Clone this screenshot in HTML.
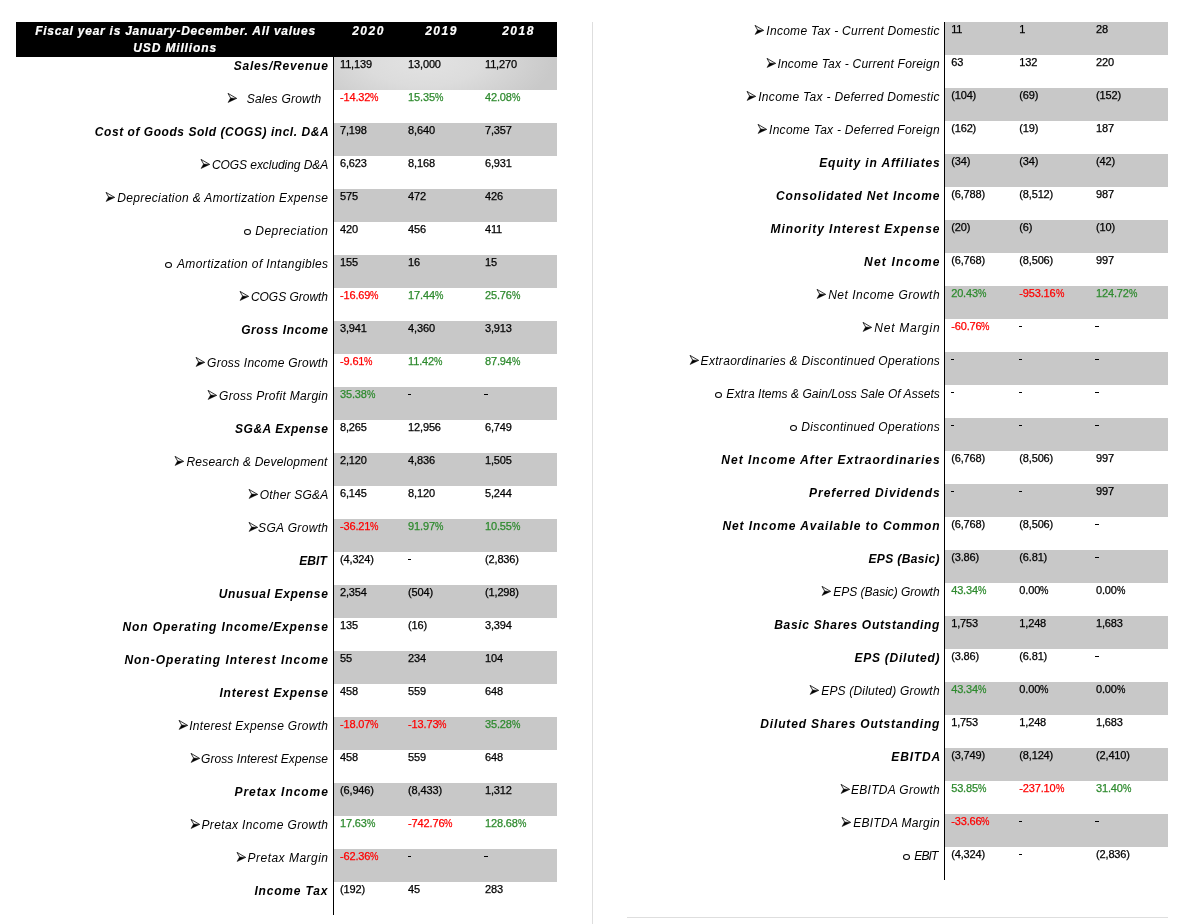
<!DOCTYPE html>
<html><head><meta charset="utf-8"><style>
html,body{margin:0;padding:0;background:#fff;width:1185px;height:924px;overflow:hidden;position:relative;font-family:"Liberation Sans",sans-serif;}
div,svg{position:absolute;}
.grey{height:33px;background:#c8c8c8;}
.grad{height:33px;background:radial-gradient(ellipse 130px 60px at 90px 2px,#e3e3e3 0%,#dcdcdc 45%,#c9c9c9 100%);}
.lab{font-style:italic;font-size:12.0px;line-height:14px;white-space:nowrap;color:#000;}
.val{font-size:11.0px;line-height:12px;white-space:nowrap;-webkit-text-stroke:0.25px currentColor;letter-spacing:-0.15px;}
.pc{display:inline-block;transform:scaleX(0.86);transform-origin:0 0;}
.ci{width:5px;height:4px;border:1px solid #000;border-radius:50%;}
.hdr{left:16px;top:22px;width:541px;height:35px;background:#000;}
.ht{color:#fff;font-weight:bold;font-style:italic;font-size:12px;line-height:14px;white-space:nowrap;text-align:center;-webkit-text-stroke:0.2px #fff;}
</style></head><body><div style="left:0;top:0;width:1185px;height:924px;will-change:transform;background:#fff">
<div class="hdr"></div>
<div class="ht" style="left:17px;width:317px;top:24px;letter-spacing:0.750px">Fiscal year is January-December. All values</div>
<div class="ht" style="left:16.6px;width:317px;top:41px;letter-spacing:0.860px">USD Millions</div>
<div class="ht" style="left:334px;width:69px;top:24px;letter-spacing:1.500px">2020</div>
<div class="ht" style="left:403px;width:77px;top:24px;letter-spacing:1.500px">2019</div>
<div class="ht" style="left:480px;width:77px;top:24px;letter-spacing:1.500px">2018</div>
<div style="left:333px;top:57px;width:1px;height:858px;background:#000"></div>
<div style="left:944px;top:22px;width:1px;height:858px;background:#000"></div>
<div style="left:592px;top:22px;width:1px;height:902px;background:#dedede"></div>
<div style="left:627px;top:917px;width:541px;height:1px;background:#dedede"></div>
<div class="grad" style="left:334px;top:57px;width:223px"></div>
<div class="lab" style="right:857.17px;top:59.00px;font-weight:bold;letter-spacing:0.782px;margin-right:-0.782px">Sales/Revenue</div>
<div class="val" style="left:340.00px;top:58.00px;color:#000">11,139</div>
<div class="val" style="left:408.10px;top:58.00px;color:#000">13,000</div>
<div class="val" style="left:485.00px;top:58.00px;color:#000">11,270</div>
<div class="lab" style="right:863.81px;top:92.00px;font-weight:normal;letter-spacing:0.223px;margin-right:-0.223px">Sales Growth</div>
<svg class="ar" style="left:226.90px;top:90.00px" width="11" height="14" viewBox="0 0 11 14"><path d="M3.6,8 L1,3.4 L9.6,8.4" fill="none" stroke="#000" stroke-width="0.8"/><path d="M3.6,7.9 L9.8,8.4 L1,12.6 Z" fill="#000" stroke="#000" stroke-width="0.4" stroke-linejoin="round"/></svg>
<div class="val" style="left:340.00px;top:91.00px;color:#ff0000">-14.32<span class="pc">%</span></div>
<div class="val" style="left:408.10px;top:91.00px;color:#2e8a2e">15.35<span class="pc">%</span></div>
<div class="val" style="left:485.00px;top:91.00px;color:#2e8a2e">42.08<span class="pc">%</span></div>
<div class="grey" style="left:334px;top:123px;width:223px"></div>
<div class="lab" style="right:856.44px;top:125.00px;font-weight:bold;letter-spacing:0.540px;margin-right:-0.540px">Cost of Goods Sold (COGS) incl. D&amp;A</div>
<div class="val" style="left:340.00px;top:124.00px;color:#000">7,198</div>
<div class="val" style="left:408.10px;top:124.00px;color:#000">8,640</div>
<div class="val" style="left:485.00px;top:124.00px;color:#000">7,357</div>
<div class="lab" style="right:856.77px;top:158.00px;font-weight:normal;letter-spacing:-0.067px;margin-right:0.067px">COGS excluding D&amp;A</div>
<svg class="ar" style="left:200.40px;top:156.00px" width="11" height="14" viewBox="0 0 11 14"><path d="M3.6,8 L1,3.4 L9.6,8.4" fill="none" stroke="#000" stroke-width="0.8"/><path d="M3.6,7.9 L9.8,8.4 L1,12.6 Z" fill="#000" stroke="#000" stroke-width="0.4" stroke-linejoin="round"/></svg>
<div class="val" style="left:340.00px;top:157.00px;color:#000">6,623</div>
<div class="val" style="left:408.10px;top:157.00px;color:#000">8,168</div>
<div class="val" style="left:485.00px;top:157.00px;color:#000">6,931</div>
<div class="grey" style="left:334px;top:189px;width:223px"></div>
<div class="lab" style="right:857.09px;top:191.00px;font-weight:normal;letter-spacing:0.363px;margin-right:-0.363px">Depreciation &amp; Amortization Expense</div>
<svg class="ar" style="left:104.70px;top:189.00px" width="11" height="14" viewBox="0 0 11 14"><path d="M3.6,8 L1,3.4 L9.6,8.4" fill="none" stroke="#000" stroke-width="0.8"/><path d="M3.6,7.9 L9.8,8.4 L1,12.6 Z" fill="#000" stroke="#000" stroke-width="0.4" stroke-linejoin="round"/></svg>
<div class="val" style="left:340.00px;top:190.00px;color:#000">575</div>
<div class="val" style="left:408.10px;top:190.00px;color:#000">472</div>
<div class="val" style="left:485.00px;top:190.00px;color:#000">426</div>
<div class="lab" style="right:856.98px;top:224.00px;font-weight:normal;letter-spacing:0.486px;margin-right:-0.486px">Depreciation</div>
<div class="ci" style="left:244.00px;top:229.00px"></div>
<div class="val" style="left:340.00px;top:223.00px;color:#000">420</div>
<div class="val" style="left:408.10px;top:223.00px;color:#000">456</div>
<div class="val" style="left:485.00px;top:223.00px;color:#000">411</div>
<div class="grey" style="left:334px;top:255px;width:223px"></div>
<div class="lab" style="right:856.87px;top:257.00px;font-weight:normal;letter-spacing:0.374px;margin-right:-0.374px">Amortization of Intangibles</div>
<div class="ci" style="left:165.10px;top:262.00px"></div>
<div class="val" style="left:340.00px;top:256.00px;color:#000">155</div>
<div class="val" style="left:408.10px;top:256.00px;color:#000">16</div>
<div class="val" style="left:485.00px;top:256.00px;color:#000">15</div>
<div class="lab" style="right:856.98px;top:290.00px;font-weight:normal;letter-spacing:-0.024px;margin-right:0.024px">COGS Growth</div>
<svg class="ar" style="left:239.20px;top:288.00px" width="11" height="14" viewBox="0 0 11 14"><path d="M3.6,8 L1,3.4 L9.6,8.4" fill="none" stroke="#000" stroke-width="0.8"/><path d="M3.6,7.9 L9.8,8.4 L1,12.6 Z" fill="#000" stroke="#000" stroke-width="0.4" stroke-linejoin="round"/></svg>
<div class="val" style="left:340.00px;top:289.00px;color:#ff0000">-16.69<span class="pc">%</span></div>
<div class="val" style="left:408.10px;top:289.00px;color:#2e8a2e">17.44<span class="pc">%</span></div>
<div class="val" style="left:485.00px;top:289.00px;color:#2e8a2e">25.76<span class="pc">%</span></div>
<div class="grey" style="left:334px;top:321px;width:223px"></div>
<div class="lab" style="right:857.17px;top:323.00px;font-weight:bold;letter-spacing:0.607px;margin-right:-0.607px">Gross Income</div>
<div class="val" style="left:340.00px;top:322.00px;color:#000">3,941</div>
<div class="val" style="left:408.10px;top:322.00px;color:#000">4,360</div>
<div class="val" style="left:485.00px;top:322.00px;color:#000">3,913</div>
<div class="lab" style="right:856.98px;top:356.00px;font-weight:normal;letter-spacing:0.235px;margin-right:-0.235px">Gross Income Growth</div>
<svg class="ar" style="left:195.30px;top:354.00px" width="11" height="14" viewBox="0 0 11 14"><path d="M3.6,8 L1,3.4 L9.6,8.4" fill="none" stroke="#000" stroke-width="0.8"/><path d="M3.6,7.9 L9.8,8.4 L1,12.6 Z" fill="#000" stroke="#000" stroke-width="0.4" stroke-linejoin="round"/></svg>
<div class="val" style="left:340.00px;top:355.00px;color:#ff0000">-9.61<span class="pc">%</span></div>
<div class="val" style="left:408.10px;top:355.00px;color:#2e8a2e">11.42<span class="pc">%</span></div>
<div class="val" style="left:485.00px;top:355.00px;color:#2e8a2e">87.94<span class="pc">%</span></div>
<div class="grey" style="left:334px;top:387px;width:223px"></div>
<div class="lab" style="right:856.98px;top:389.00px;font-weight:normal;letter-spacing:0.314px;margin-right:-0.314px">Gross Profit Margin</div>
<svg class="ar" style="left:207.20px;top:387.00px" width="11" height="14" viewBox="0 0 11 14"><path d="M3.6,8 L1,3.4 L9.6,8.4" fill="none" stroke="#000" stroke-width="0.8"/><path d="M3.6,7.9 L9.8,8.4 L1,12.6 Z" fill="#000" stroke="#000" stroke-width="0.4" stroke-linejoin="round"/></svg>
<div class="val" style="left:340.00px;top:388.00px;color:#2e8a2e">35.38<span class="pc">%</span></div>
<div style="left:407.50px;top:394.00px;width:3.7px;height:1px;background:#000"></div>
<div style="left:484.40px;top:394.00px;width:3.7px;height:1px;background:#000"></div>
<div class="lab" style="right:857.17px;top:422.00px;font-weight:bold;letter-spacing:0.540px;margin-right:-0.540px">SG&amp;A Expense</div>
<div class="val" style="left:340.00px;top:421.00px;color:#000">8,265</div>
<div class="val" style="left:408.10px;top:421.00px;color:#000">12,956</div>
<div class="val" style="left:485.00px;top:421.00px;color:#000">6,749</div>
<div class="grey" style="left:334px;top:453px;width:223px"></div>
<div class="lab" style="right:857.59px;top:455.00px;font-weight:normal;letter-spacing:0.201px;margin-right:-0.201px">Research &amp; Development</div>
<svg class="ar" style="left:174.30px;top:453.00px" width="11" height="14" viewBox="0 0 11 14"><path d="M3.6,8 L1,3.4 L9.6,8.4" fill="none" stroke="#000" stroke-width="0.8"/><path d="M3.6,7.9 L9.8,8.4 L1,12.6 Z" fill="#000" stroke="#000" stroke-width="0.4" stroke-linejoin="round"/></svg>
<div class="val" style="left:340.00px;top:454.00px;color:#000">2,120</div>
<div class="val" style="left:408.10px;top:454.00px;color:#000">4,836</div>
<div class="val" style="left:485.00px;top:454.00px;color:#000">1,505</div>
<div class="lab" style="right:856.77px;top:488.00px;font-weight:normal;letter-spacing:0.195px;margin-right:-0.195px">Other SG&amp;A</div>
<svg class="ar" style="left:248.40px;top:486.00px" width="11" height="14" viewBox="0 0 11 14"><path d="M3.6,8 L1,3.4 L9.6,8.4" fill="none" stroke="#000" stroke-width="0.8"/><path d="M3.6,7.9 L9.8,8.4 L1,12.6 Z" fill="#000" stroke="#000" stroke-width="0.4" stroke-linejoin="round"/></svg>
<div class="val" style="left:340.00px;top:487.00px;color:#000">6,145</div>
<div class="val" style="left:408.10px;top:487.00px;color:#000">8,120</div>
<div class="val" style="left:485.00px;top:487.00px;color:#000">5,244</div>
<div class="grey" style="left:334px;top:519px;width:223px"></div>
<div class="lab" style="right:856.98px;top:521.00px;font-weight:normal;letter-spacing:0.340px;margin-right:-0.340px">SGA Growth</div>
<svg class="ar" style="left:247.60px;top:519.00px" width="11" height="14" viewBox="0 0 11 14"><path d="M3.6,8 L1,3.4 L9.6,8.4" fill="none" stroke="#000" stroke-width="0.8"/><path d="M3.6,7.9 L9.8,8.4 L1,12.6 Z" fill="#000" stroke="#000" stroke-width="0.4" stroke-linejoin="round"/></svg>
<div class="val" style="left:340.00px;top:520.00px;color:#ff0000">-36.21<span class="pc">%</span></div>
<div class="val" style="left:408.10px;top:520.00px;color:#2e8a2e">91.97<span class="pc">%</span></div>
<div class="val" style="left:485.00px;top:520.00px;color:#2e8a2e">10.55<span class="pc">%</span></div>
<div class="lab" style="right:858.20px;top:554.00px;font-weight:bold;letter-spacing:0.111px;margin-right:-0.111px">EBIT</div>
<div class="val" style="left:340.00px;top:553.00px;color:#000">(4,324)</div>
<div style="left:407.50px;top:559.00px;width:3.7px;height:1px;background:#000"></div>
<div class="val" style="left:485.00px;top:553.00px;color:#000">(2,836)</div>
<div class="grey" style="left:334px;top:585px;width:223px"></div>
<div class="lab" style="right:857.17px;top:587.00px;font-weight:bold;letter-spacing:0.644px;margin-right:-0.644px">Unusual Expense</div>
<div class="val" style="left:340.00px;top:586.00px;color:#000">2,354</div>
<div class="val" style="left:408.10px;top:586.00px;color:#000">(504)</div>
<div class="val" style="left:485.00px;top:586.00px;color:#000">(1,298)</div>
<div class="lab" style="right:857.17px;top:620.00px;font-weight:bold;letter-spacing:0.889px;margin-right:-0.889px">Non Operating Income/Expense</div>
<div class="val" style="left:340.00px;top:619.00px;color:#000">135</div>
<div class="val" style="left:408.10px;top:619.00px;color:#000">(16)</div>
<div class="val" style="left:485.00px;top:619.00px;color:#000">3,394</div>
<div class="grey" style="left:334px;top:651px;width:223px"></div>
<div class="lab" style="right:857.17px;top:653.00px;font-weight:bold;letter-spacing:0.978px;margin-right:-0.978px">Non-Operating Interest Income</div>
<div class="val" style="left:340.00px;top:652.00px;color:#000">55</div>
<div class="val" style="left:408.10px;top:652.00px;color:#000">234</div>
<div class="val" style="left:485.00px;top:652.00px;color:#000">104</div>
<div class="lab" style="right:857.17px;top:686.00px;font-weight:bold;letter-spacing:0.823px;margin-right:-0.823px">Interest Expense</div>
<div class="val" style="left:340.00px;top:685.00px;color:#000">458</div>
<div class="val" style="left:408.10px;top:685.00px;color:#000">559</div>
<div class="val" style="left:485.00px;top:685.00px;color:#000">648</div>
<div class="grey" style="left:334px;top:717px;width:223px"></div>
<div class="lab" style="right:856.98px;top:719.00px;font-weight:normal;letter-spacing:0.308px;margin-right:-0.308px">Interest Expense Growth</div>
<svg class="ar" style="left:177.60px;top:717.00px" width="11" height="14" viewBox="0 0 11 14"><path d="M3.6,8 L1,3.4 L9.6,8.4" fill="none" stroke="#000" stroke-width="0.8"/><path d="M3.6,7.9 L9.8,8.4 L1,12.6 Z" fill="#000" stroke="#000" stroke-width="0.4" stroke-linejoin="round"/></svg>
<div class="val" style="left:340.00px;top:718.00px;color:#ff0000">-18.07<span class="pc">%</span></div>
<div class="val" style="left:408.10px;top:718.00px;color:#ff0000">-13.73<span class="pc">%</span></div>
<div class="val" style="left:485.00px;top:718.00px;color:#2e8a2e">35.28<span class="pc">%</span></div>
<div class="lab" style="right:857.09px;top:752.00px;font-weight:normal;letter-spacing:0.069px;margin-right:-0.069px">Gross Interest Expense</div>
<svg class="ar" style="left:189.60px;top:750.00px" width="11" height="14" viewBox="0 0 11 14"><path d="M3.6,8 L1,3.4 L9.6,8.4" fill="none" stroke="#000" stroke-width="0.8"/><path d="M3.6,7.9 L9.8,8.4 L1,12.6 Z" fill="#000" stroke="#000" stroke-width="0.4" stroke-linejoin="round"/></svg>
<div class="val" style="left:340.00px;top:751.00px;color:#000">458</div>
<div class="val" style="left:408.10px;top:751.00px;color:#000">559</div>
<div class="val" style="left:485.00px;top:751.00px;color:#000">648</div>
<div class="grey" style="left:334px;top:783px;width:223px"></div>
<div class="lab" style="right:857.17px;top:785.00px;font-weight:bold;letter-spacing:0.944px;margin-right:-0.944px">Pretax Income</div>
<div class="val" style="left:340.00px;top:784.00px;color:#000">(6,946)</div>
<div class="val" style="left:408.10px;top:784.00px;color:#000">(8,433)</div>
<div class="val" style="left:485.00px;top:784.00px;color:#000">1,312</div>
<div class="lab" style="right:856.98px;top:818.00px;font-weight:normal;letter-spacing:0.379px;margin-right:-0.379px">Pretax Income Growth</div>
<svg class="ar" style="left:189.60px;top:816.00px" width="11" height="14" viewBox="0 0 11 14"><path d="M3.6,8 L1,3.4 L9.6,8.4" fill="none" stroke="#000" stroke-width="0.8"/><path d="M3.6,7.9 L9.8,8.4 L1,12.6 Z" fill="#000" stroke="#000" stroke-width="0.4" stroke-linejoin="round"/></svg>
<div class="val" style="left:340.00px;top:817.00px;color:#2e8a2e">17.63<span class="pc">%</span></div>
<div class="val" style="left:408.10px;top:817.00px;color:#ff0000">-742.76<span class="pc">%</span></div>
<div class="val" style="left:485.00px;top:817.00px;color:#2e8a2e">128.68<span class="pc">%</span></div>
<div class="grey" style="left:334px;top:849px;width:223px"></div>
<div class="lab" style="right:856.98px;top:851.00px;font-weight:normal;letter-spacing:0.483px;margin-right:-0.483px">Pretax Margin</div>
<svg class="ar" style="left:235.70px;top:849.00px" width="11" height="14" viewBox="0 0 11 14"><path d="M3.6,8 L1,3.4 L9.6,8.4" fill="none" stroke="#000" stroke-width="0.8"/><path d="M3.6,7.9 L9.8,8.4 L1,12.6 Z" fill="#000" stroke="#000" stroke-width="0.4" stroke-linejoin="round"/></svg>
<div class="val" style="left:340.00px;top:850.00px;color:#ff0000">-62.36<span class="pc">%</span></div>
<div style="left:407.50px;top:856.00px;width:3.7px;height:1px;background:#000"></div>
<div style="left:484.40px;top:856.00px;width:3.7px;height:1px;background:#000"></div>
<div class="lab" style="right:857.61px;top:884.00px;font-weight:bold;letter-spacing:0.821px;margin-right:-0.821px">Income Tax</div>
<div class="val" style="left:340.00px;top:883.00px;color:#000">(192)</div>
<div class="val" style="left:408.10px;top:883.00px;color:#000">45</div>
<div class="val" style="left:485.00px;top:883.00px;color:#000">283</div>
<div class="grey" style="left:945px;top:22px;width:223px"></div>
<div class="lab" style="right:245.53px;top:24.00px;font-weight:normal;letter-spacing:0.268px;margin-right:-0.268px">Income Tax - Current Domestic</div>
<svg class="ar" style="left:754.20px;top:22.00px" width="11" height="14" viewBox="0 0 11 14"><path d="M3.6,8 L1,3.4 L9.6,8.4" fill="none" stroke="#000" stroke-width="0.8"/><path d="M3.6,7.9 L9.8,8.4 L1,12.6 Z" fill="#000" stroke="#000" stroke-width="0.4" stroke-linejoin="round"/></svg>
<div class="val" style="left:951.20px;top:23.00px;color:#000">11</div>
<div class="val" style="left:1019.30px;top:23.00px;color:#000">1</div>
<div class="val" style="left:1096.00px;top:23.00px;color:#000">28</div>
<div class="lab" style="right:245.41px;top:57.00px;font-weight:normal;letter-spacing:0.217px;margin-right:-0.217px">Income Tax - Current Foreign</div>
<svg class="ar" style="left:765.60px;top:55.00px" width="11" height="14" viewBox="0 0 11 14"><path d="M3.6,8 L1,3.4 L9.6,8.4" fill="none" stroke="#000" stroke-width="0.8"/><path d="M3.6,7.9 L9.8,8.4 L1,12.6 Z" fill="#000" stroke="#000" stroke-width="0.4" stroke-linejoin="round"/></svg>
<div class="val" style="left:951.20px;top:56.00px;color:#000">63</div>
<div class="val" style="left:1019.30px;top:56.00px;color:#000">132</div>
<div class="val" style="left:1096.00px;top:56.00px;color:#000">220</div>
<div class="grey" style="left:945px;top:88px;width:223px"></div>
<div class="lab" style="right:245.53px;top:90.00px;font-weight:normal;letter-spacing:0.310px;margin-right:-0.310px">Income Tax - Deferred Domestic</div>
<svg class="ar" style="left:746.30px;top:88.00px" width="11" height="14" viewBox="0 0 11 14"><path d="M3.6,8 L1,3.4 L9.6,8.4" fill="none" stroke="#000" stroke-width="0.8"/><path d="M3.6,7.9 L9.8,8.4 L1,12.6 Z" fill="#000" stroke="#000" stroke-width="0.4" stroke-linejoin="round"/></svg>
<div class="val" style="left:951.20px;top:89.00px;color:#000">(104)</div>
<div class="val" style="left:1019.30px;top:89.00px;color:#000">(69)</div>
<div class="val" style="left:1096.00px;top:89.00px;color:#000">(152)</div>
<div class="lab" style="right:245.41px;top:123.00px;font-weight:normal;letter-spacing:0.270px;margin-right:-0.270px">Income Tax - Deferred Foreign</div>
<svg class="ar" style="left:757.00px;top:121.00px" width="11" height="14" viewBox="0 0 11 14"><path d="M3.6,8 L1,3.4 L9.6,8.4" fill="none" stroke="#000" stroke-width="0.8"/><path d="M3.6,7.9 L9.8,8.4 L1,12.6 Z" fill="#000" stroke="#000" stroke-width="0.4" stroke-linejoin="round"/></svg>
<div class="val" style="left:951.20px;top:122.00px;color:#000">(162)</div>
<div class="val" style="left:1019.30px;top:122.00px;color:#000">(19)</div>
<div class="val" style="left:1096.00px;top:122.00px;color:#000">187</div>
<div class="grey" style="left:945px;top:154px;width:223px"></div>
<div class="lab" style="right:245.24px;top:156.00px;font-weight:bold;letter-spacing:0.874px;margin-right:-0.874px">Equity in Affiliates</div>
<div class="val" style="left:951.20px;top:155.00px;color:#000">(34)</div>
<div class="val" style="left:1019.30px;top:155.00px;color:#000">(34)</div>
<div class="val" style="left:1096.00px;top:155.00px;color:#000">(42)</div>
<div class="lab" style="right:245.56px;top:189.00px;font-weight:bold;letter-spacing:0.883px;margin-right:-0.883px">Consolidated Net Income</div>
<div class="val" style="left:951.20px;top:188.00px;color:#000">(6,788)</div>
<div class="val" style="left:1019.30px;top:188.00px;color:#000">(8,512)</div>
<div class="val" style="left:1096.00px;top:188.00px;color:#000">987</div>
<div class="grey" style="left:945px;top:220px;width:223px"></div>
<div class="lab" style="right:245.56px;top:222.00px;font-weight:bold;letter-spacing:0.954px;margin-right:-0.954px">Minority Interest Expense</div>
<div class="val" style="left:951.20px;top:221.00px;color:#000">(20)</div>
<div class="val" style="left:1019.30px;top:221.00px;color:#000">(6)</div>
<div class="val" style="left:1096.00px;top:221.00px;color:#000">(10)</div>
<div class="lab" style="right:245.56px;top:255.00px;font-weight:bold;letter-spacing:1.183px;margin-right:-1.183px">Net Income</div>
<div class="val" style="left:951.20px;top:254.00px;color:#000">(6,768)</div>
<div class="val" style="left:1019.30px;top:254.00px;color:#000">(8,506)</div>
<div class="val" style="left:1096.00px;top:254.00px;color:#000">997</div>
<div class="grey" style="left:945px;top:286px;width:223px"></div>
<div class="lab" style="right:245.41px;top:288.00px;font-weight:normal;letter-spacing:0.503px;margin-right:-0.503px">Net Income Growth</div>
<svg class="ar" style="left:816.20px;top:286.00px" width="11" height="14" viewBox="0 0 11 14"><path d="M3.6,8 L1,3.4 L9.6,8.4" fill="none" stroke="#000" stroke-width="0.8"/><path d="M3.6,7.9 L9.8,8.4 L1,12.6 Z" fill="#000" stroke="#000" stroke-width="0.4" stroke-linejoin="round"/></svg>
<div class="val" style="left:951.20px;top:287.00px;color:#2e8a2e">20.43<span class="pc">%</span></div>
<div class="val" style="left:1019.30px;top:287.00px;color:#ff0000">-953.16<span class="pc">%</span></div>
<div class="val" style="left:1096.00px;top:287.00px;color:#2e8a2e">124.72<span class="pc">%</span></div>
<div class="lab" style="right:245.41px;top:321.00px;font-weight:normal;letter-spacing:0.729px;margin-right:-0.729px">Net Margin</div>
<svg class="ar" style="left:862.20px;top:319.00px" width="11" height="14" viewBox="0 0 11 14"><path d="M3.6,8 L1,3.4 L9.6,8.4" fill="none" stroke="#000" stroke-width="0.8"/><path d="M3.6,7.9 L9.8,8.4 L1,12.6 Z" fill="#000" stroke="#000" stroke-width="0.4" stroke-linejoin="round"/></svg>
<div class="val" style="left:951.20px;top:320.00px;color:#ff0000">-60.76<span class="pc">%</span></div>
<div style="left:1018.70px;top:326.00px;width:3.7px;height:1px;background:#000"></div>
<div style="left:1095.40px;top:326.00px;width:3.7px;height:1px;background:#000"></div>
<div class="grey" style="left:945px;top:352px;width:223px"></div>
<div class="lab" style="right:245.14px;top:354.00px;font-weight:normal;letter-spacing:0.313px;margin-right:-0.313px">Extraordinaries &amp; Discontinued Operations</div>
<svg class="ar" style="left:688.60px;top:352.00px" width="11" height="14" viewBox="0 0 11 14"><path d="M3.6,8 L1,3.4 L9.6,8.4" fill="none" stroke="#000" stroke-width="0.8"/><path d="M3.6,7.9 L9.8,8.4 L1,12.6 Z" fill="#000" stroke="#000" stroke-width="0.4" stroke-linejoin="round"/></svg>
<div style="left:950.60px;top:359.00px;width:3.7px;height:1px;background:#000"></div>
<div style="left:1018.70px;top:359.00px;width:3.7px;height:1px;background:#000"></div>
<div style="left:1095.40px;top:359.00px;width:3.7px;height:1px;background:#000"></div>
<div class="lab" style="right:245.14px;top:387.00px;font-weight:normal;letter-spacing:0.051px;margin-right:-0.051px">Extra Items &amp; Gain/Loss Sale Of Assets</div>
<div class="ci" style="left:715.30px;top:392.00px"></div>
<div style="left:950.60px;top:392.00px;width:3.7px;height:1px;background:#000"></div>
<div style="left:1018.70px;top:392.00px;width:3.7px;height:1px;background:#000"></div>
<div style="left:1095.40px;top:392.00px;width:3.7px;height:1px;background:#000"></div>
<div class="grey" style="left:945px;top:418px;width:223px"></div>
<div class="lab" style="right:245.14px;top:420.00px;font-weight:normal;letter-spacing:0.323px;margin-right:-0.323px">Discontinued Operations</div>
<div class="ci" style="left:790.00px;top:425.00px"></div>
<div style="left:950.60px;top:425.00px;width:3.7px;height:1px;background:#000"></div>
<div style="left:1018.70px;top:425.00px;width:3.7px;height:1px;background:#000"></div>
<div style="left:1095.40px;top:425.00px;width:3.7px;height:1px;background:#000"></div>
<div class="lab" style="right:245.30px;top:453.00px;font-weight:bold;letter-spacing:1.014px;margin-right:-1.014px">Net Income After Extraordinaries</div>
<div class="val" style="left:951.20px;top:452.00px;color:#000">(6,768)</div>
<div class="val" style="left:1019.30px;top:452.00px;color:#000">(8,506)</div>
<div class="val" style="left:1096.00px;top:452.00px;color:#000">997</div>
<div class="grey" style="left:945px;top:484px;width:223px"></div>
<div class="lab" style="right:245.24px;top:486.00px;font-weight:bold;letter-spacing:0.923px;margin-right:-0.923px">Preferred Dividends</div>
<div style="left:950.60px;top:491.00px;width:3.7px;height:1px;background:#000"></div>
<div style="left:1018.70px;top:491.00px;width:3.7px;height:1px;background:#000"></div>
<div class="val" style="left:1096.00px;top:485.00px;color:#000">997</div>
<div class="lab" style="right:245.32px;top:519.00px;font-weight:bold;letter-spacing:0.932px;margin-right:-0.932px">Net Income Available to Common</div>
<div class="val" style="left:951.20px;top:518.00px;color:#000">(6,768)</div>
<div class="val" style="left:1019.30px;top:518.00px;color:#000">(8,506)</div>
<div style="left:1095.40px;top:524.00px;width:3.7px;height:1px;background:#000"></div>
<div class="grey" style="left:945px;top:550px;width:223px"></div>
<div class="lab" style="right:245.44px;top:552.00px;font-weight:bold;letter-spacing:0.372px;margin-right:-0.372px">EPS (Basic)</div>
<div class="val" style="left:951.20px;top:551.00px;color:#000">(3.86)</div>
<div class="val" style="left:1019.30px;top:551.00px;color:#000">(6.81)</div>
<div style="left:1095.40px;top:557.00px;width:3.7px;height:1px;background:#000"></div>
<div class="lab" style="right:245.41px;top:585.00px;font-weight:normal;letter-spacing:-0.026px;margin-right:0.026px">EPS (Basic) Growth</div>
<svg class="ar" style="left:821.20px;top:583.00px" width="11" height="14" viewBox="0 0 11 14"><path d="M3.6,8 L1,3.4 L9.6,8.4" fill="none" stroke="#000" stroke-width="0.8"/><path d="M3.6,7.9 L9.8,8.4 L1,12.6 Z" fill="#000" stroke="#000" stroke-width="0.4" stroke-linejoin="round"/></svg>
<div class="val" style="left:951.20px;top:584.00px;color:#2e8a2e">43.34<span class="pc">%</span></div>
<div class="val" style="left:1019.30px;top:584.00px;color:#000">0.00<span class="pc">%</span></div>
<div class="val" style="left:1096.00px;top:584.00px;color:#000">0.00<span class="pc">%</span></div>
<div class="grey" style="left:945px;top:616px;width:223px"></div>
<div class="lab" style="right:245.57px;top:618.00px;font-weight:bold;letter-spacing:0.691px;margin-right:-0.691px">Basic Shares Outstanding</div>
<div class="val" style="left:951.20px;top:617.00px;color:#000">1,753</div>
<div class="val" style="left:1019.30px;top:617.00px;color:#000">1,248</div>
<div class="val" style="left:1096.00px;top:617.00px;color:#000">1,683</div>
<div class="lab" style="right:245.44px;top:651.00px;font-weight:bold;letter-spacing:0.759px;margin-right:-0.759px">EPS (Diluted)</div>
<div class="val" style="left:951.20px;top:650.00px;color:#000">(3.86)</div>
<div class="val" style="left:1019.30px;top:650.00px;color:#000">(6.81)</div>
<div style="left:1095.40px;top:656.00px;width:3.7px;height:1px;background:#000"></div>
<div class="grey" style="left:945px;top:682px;width:223px"></div>
<div class="lab" style="right:245.41px;top:684.00px;font-weight:normal;letter-spacing:0.194px;margin-right:-0.194px">EPS (Diluted) Growth</div>
<svg class="ar" style="left:809.40px;top:682.00px" width="11" height="14" viewBox="0 0 11 14"><path d="M3.6,8 L1,3.4 L9.6,8.4" fill="none" stroke="#000" stroke-width="0.8"/><path d="M3.6,7.9 L9.8,8.4 L1,12.6 Z" fill="#000" stroke="#000" stroke-width="0.4" stroke-linejoin="round"/></svg>
<div class="val" style="left:951.20px;top:683.00px;color:#2e8a2e">43.34<span class="pc">%</span></div>
<div class="val" style="left:1019.30px;top:683.00px;color:#000">0.00<span class="pc">%</span></div>
<div class="val" style="left:1096.00px;top:683.00px;color:#000">0.00<span class="pc">%</span></div>
<div class="lab" style="right:245.57px;top:717.00px;font-weight:bold;letter-spacing:0.844px;margin-right:-0.844px">Diluted Shares Outstanding</div>
<div class="val" style="left:951.20px;top:716.00px;color:#000">1,753</div>
<div class="val" style="left:1019.30px;top:716.00px;color:#000">1,248</div>
<div class="val" style="left:1096.00px;top:716.00px;color:#000">1,683</div>
<div class="grey" style="left:945px;top:748px;width:223px"></div>
<div class="lab" style="right:244.92px;top:750.00px;font-weight:bold;letter-spacing:0.817px;margin-right:-0.817px">EBITDA</div>
<div class="val" style="left:951.20px;top:749.00px;color:#000">(3,749)</div>
<div class="val" style="left:1019.30px;top:749.00px;color:#000">(8,124)</div>
<div class="val" style="left:1096.00px;top:749.00px;color:#000">(2,410)</div>
<div class="lab" style="right:245.41px;top:783.00px;font-weight:normal;letter-spacing:0.315px;margin-right:-0.315px">EBITDA Growth</div>
<svg class="ar" style="left:839.50px;top:781.00px" width="11" height="14" viewBox="0 0 11 14"><path d="M3.6,8 L1,3.4 L9.6,8.4" fill="none" stroke="#000" stroke-width="0.8"/><path d="M3.6,7.9 L9.8,8.4 L1,12.6 Z" fill="#000" stroke="#000" stroke-width="0.4" stroke-linejoin="round"/></svg>
<div class="val" style="left:951.20px;top:782.00px;color:#2e8a2e">53.85<span class="pc">%</span></div>
<div class="val" style="left:1019.30px;top:782.00px;color:#ff0000">-237.10<span class="pc">%</span></div>
<div class="val" style="left:1096.00px;top:782.00px;color:#2e8a2e">31.40<span class="pc">%</span></div>
<div class="grey" style="left:945px;top:814px;width:223px"></div>
<div class="lab" style="right:245.41px;top:816.00px;font-weight:normal;letter-spacing:0.293px;margin-right:-0.293px">EBITDA Margin</div>
<svg class="ar" style="left:841.30px;top:814.00px" width="11" height="14" viewBox="0 0 11 14"><path d="M3.6,8 L1,3.4 L9.6,8.4" fill="none" stroke="#000" stroke-width="0.8"/><path d="M3.6,7.9 L9.8,8.4 L1,12.6 Z" fill="#000" stroke="#000" stroke-width="0.4" stroke-linejoin="round"/></svg>
<div class="val" style="left:951.20px;top:815.00px;color:#ff0000">-33.66<span class="pc">%</span></div>
<div style="left:1018.70px;top:821.00px;width:3.7px;height:1px;background:#000"></div>
<div style="left:1095.40px;top:821.00px;width:3.7px;height:1px;background:#000"></div>
<div class="lab" style="right:246.61px;top:849.00px;font-weight:normal;letter-spacing:-0.881px;margin-right:0.881px">EBIT</div>
<div class="ci" style="left:902.80px;top:854.00px"></div>
<div class="val" style="left:951.20px;top:848.00px;color:#000">(4,324)</div>
<div style="left:1018.70px;top:854.00px;width:3.7px;height:1px;background:#000"></div>
<div class="val" style="left:1096.00px;top:848.00px;color:#000">(2,836)</div>
</div></body></html>
